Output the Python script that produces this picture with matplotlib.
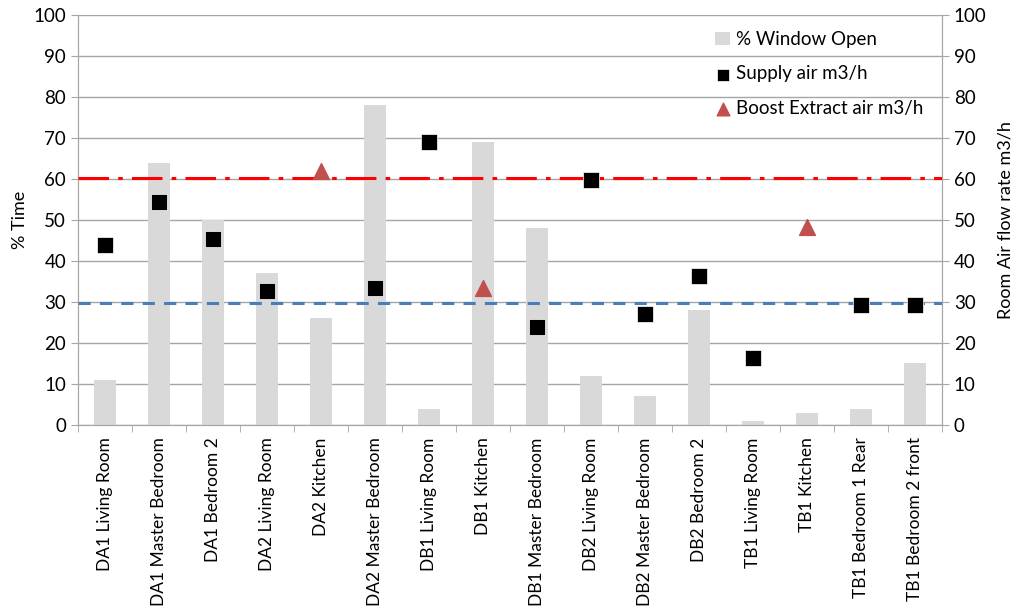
import matplotlib.pyplot as plt
import numpy as np

plt.rcParams['font.family'] = ['Lato', 'DejaVu Sans']

rooms = ["DA1 Living Room", "DA1 Master Bedroom", "DA1 Bedroom 2", "DA2 Living Room",
         "DA2 Kitchen", "DA2 Master Bedroom", "DB1 Living Room", "DB1 Kitchen",
         "DB1 Master Bedroom", "DB2 Living Room", "DB2 Master Bedroom", "DB2 Bedroom 2",
         "TB1 Living Room", "TB1 Kitchen", "TB1 Bedroom 1 Rear", "TB1 Bedroom 2 front"]
window_open = [11, 64, 50, 37, 26, 78, 4, 69, 48, 12, 7, 28, 1, 3, 4, 15]
supply_air = [44, 54.3, 45.4, 32.6, np.nan, 33.5, 69, np.nan, 23.8, 59.8, 27, 36.3,
              16.3, np.nan, 29.3, 29.3]
boost_extract = [np.nan, np.nan, np.nan, np.nan, 62, np.nan, np.nan, 33.5, np.nan,
                 np.nan, np.nan, np.nan, np.nan, 48.3, np.nan, np.nan]
boost_limit = 60.3
supply_limit = 29.7

x = np.arange(len(rooms))
grid_col = '#a6a6a6'

fig = plt.figure(figsize=(10.24, 6.15), dpi=100)
ax = fig.add_axes([0.0762, 0.309, 0.8438, 0.6666])
ax2 = ax.twinx()

bars = ax.bar(x, window_open, width=0.4, color='#d9d9d9', label='% Window Open', zorder=2)
ax.set_xlim(-0.5, len(rooms) - 0.5)
ax.set_ylim(0, 100)
ax.set_yticks(np.arange(0, 101, 10))
ax.grid(axis='y', color=grid_col, linewidth=1, zorder=0)
ax.set_axisbelow(True)
ax.set_xticks(x)
ax.set_xticklabels(rooms, rotation=90, fontsize=12.5)
ax.set_xticks(np.arange(-0.5, len(rooms)), minor=True)
ax.tick_params(axis='x', which='major', length=0, pad=9)
ax.tick_params(axis='x', which='minor', length=5, color=grid_col)
ax.tick_params(axis='y', labelsize=13.5, length=5, color=grid_col)
ax.set_ylabel('% Time', fontsize=13)

ax2.set_ylim(0, 100)
ax2.set_yticks(np.arange(0, 101, 10))
ax2.tick_params(axis='y', labelsize=13.5, length=5, color=grid_col)
ax2.set_ylabel('Room Air flow rate m3/h', fontsize=13, labelpad=8)

ax2.axhline(boost_limit, color='#ff0000', linestyle=(0, (10, 3, 1.5, 3)), linewidth=2.2, zorder=3)
ax2.axhline(supply_limit, color='#4a7ebb', linestyle=(0, (4, 3)), linewidth=2.2, zorder=3)
sq = ax2.scatter(x, supply_air, marker='s', s=120, color='black', edgecolors='white',
                 linewidths=0.5, label='Supply air m3/h', zorder=4)
tri = ax2.scatter(x, boost_extract, marker='^', s=130, color='#c0504d',
                  label='Boost Extract air m3/h', zorder=4)

for a in (ax, ax2):
    a.spines['top'].set_visible(False)
    for s in ('left', 'right', 'bottom'):
        a.spines[s].set_color(grid_col)

ax2.legend(handles=[bars, sq, tri], loc='upper right', bbox_to_anchor=(0.998, 1.003),
           frameon=False, fontsize=13.5, labelspacing=0.95, handlelength=0.8,
           handletextpad=0.3, markerscale=0.8)

fig.savefig('out.png', dpi=100)
